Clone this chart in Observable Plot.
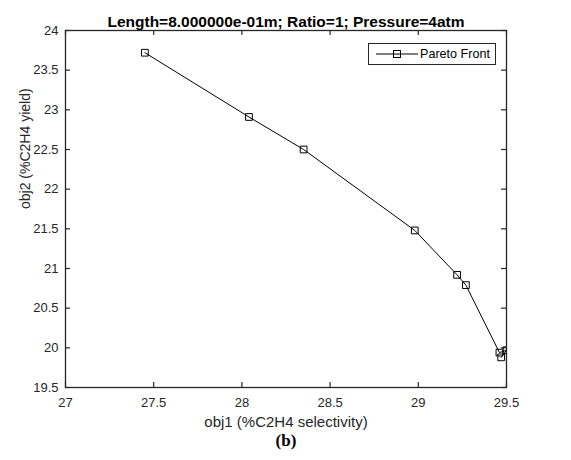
<!DOCTYPE html>
<html><head><meta charset="utf-8">
<script src="https://cdn.jsdelivr.net/npm/d3@7"></script>
<script src="https://cdn.jsdelivr.net/npm/@observablehq/plot@0.6"></script>
<style>
body{margin:0;background:#fff;}
#wrap{position:relative;width:571px;height:460px;font-family:"Liberation Sans",Arial,sans-serif;}
#legend{position:absolute;left:368px;top:43px;width:128px;height:22px;border:1px solid #262626;background:#fff;box-sizing:border-box;}
#legend svg{position:absolute;left:7px;top:4px;}
#legend span{position:absolute;left:51px;top:3px;font-size:12.6px;color:#000;white-space:nowrap;}
</style></head>
<body><div id="wrap"></div>
<script>
const obj1 = [27.45, 28.04, 28.35, 28.98, 29.22, 29.27, 29.46, 29.50, 29.47];
const obj2 = [23.72, 22.91, 22.50, 21.48, 20.92, 20.79, 19.94, 19.97, 19.88];
const xTicks = [27, 27.5, 28, 28.5, 29, 29.5];
const yTicks = [19.5, 20, 20.5, 21, 21.5, 22, 22.5, 23, 23.5, 24];
const title = "Length=8.000000e-01m; Ratio=1; Pressure=4atm";
const xLabel = "obj1 (%C2H4 selectivity)";
const yLabel = "obj2 (%C2H4 yield)";
const panel = "(b)";
const seriesName = "Pareto Front";

const data = obj1.map((x, i) => ({x, y: obj2[i]}));

const W = 571, H = 460, mL = 65, mR = 65, mT = 30, mB = 73;
const innerH = H - mT - mB, innerW = W - mL - mR;
const tk = 5;
const ink = "#262626";

const chart = Plot.plot({
  width: W, height: H,
  marginLeft: mL, marginRight: mR, marginTop: mT, marginBottom: mB,
  style: {fontFamily: "Liberation Sans, Arial, sans-serif", fontSize: "13px", color: ink, background: "#fff"},
  x: {domain: [27, 29.5]},
  y: {domain: [19.5, 24]},
  marks: [
    Plot.ruleX(xTicks, {x: d => d, insetTop: innerH - tk, stroke: ink, strokeWidth: 1.2}),
    Plot.ruleX(xTicks, {x: d => d, insetBottom: innerH - tk, stroke: ink, strokeWidth: 1.2}),
    Plot.ruleY(yTicks, {y: d => d, insetRight: innerW - tk, stroke: ink, strokeWidth: 1.2}),
    Plot.ruleY(yTicks, {y: d => d, insetLeft: innerW - tk, stroke: ink, strokeWidth: 1.2}),
    Plot.axisX(xTicks, {anchor: "bottom", tickSize: 0, tickPadding: 10, tickFormat: d => String(d), label: null, fill: ink}),
    Plot.axisY(yTicks, {anchor: "left", tickSize: 0, tickPadding: 7, tickFormat: d => String(d), label: null, fill: ink}),
    Plot.line(data, {x: "x", y: "y", stroke: "#000", strokeWidth: 1, clip: true}),
    Plot.dot(data, {x: "x", y: "y", symbol: "square", r: 3.8, stroke: "#000", strokeWidth: 1, fill: "none", clip: true}),
    Plot.frame({stroke: ink, strokeWidth: 1.3}),
    Plot.text([title], {text: d => d, frameAnchor: "top", dy: -15, fontWeight: "bold", fontSize: 15.5, fill: "#000"}),
    Plot.text([xLabel], {text: d => d, frameAnchor: "bottom", dy: 39, fontSize: 15, fill: ink}),
    Plot.text([yLabel], {text: d => d, frameAnchor: "left", dx: -40, rotate: -90, fontSize: 14, fill: ink}),
    Plot.text([panel], {text: d => d, frameAnchor: "bottom", dy: 58, fontFamily: "Liberation Serif, Times New Roman, serif", fontWeight: "bold", fontSize: 17, fill: "#000"})
  ]
});

const wrap = document.getElementById("wrap");
wrap.appendChild(chart);

const legend = document.createElement("div");
legend.id = "legend";
legend.innerHTML = `<svg width="42" height="12"><line x1="0" y1="6" x2="42" y2="6" stroke="#000" stroke-width="1"/><rect x="17.5" y="2.5" width="7" height="7" fill="none" stroke="#000" stroke-width="1"/></svg><span></span>`;
legend.querySelector("span").textContent = seriesName;
wrap.appendChild(legend);
</script>
</body></html>
